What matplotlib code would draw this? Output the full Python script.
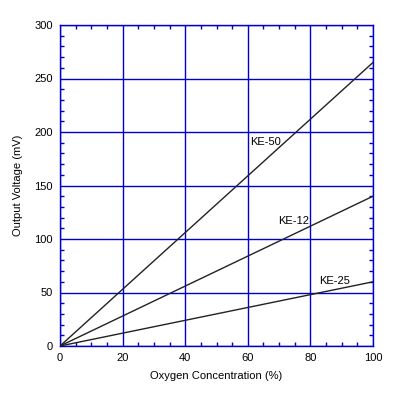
import matplotlib
matplotlib.use("Agg")
import matplotlib.pyplot as plt
from matplotlib.ticker import MultipleLocator

plt.rcParams['font.family'] = ['Liberation Sans', 'DejaVu Sans']

oxygen = [0, 20, 40, 60, 80, 100]
ke50 = [0, 53, 106, 159, 212, 265]
ke12 = [0, 28, 56, 84, 112, 140]
ke25 = [0, 12, 24, 36, 48, 60]

labels = [("KE-50", 60.7, 191), ("KE-12", 69.6, 117), ("KE-25", 82.7, 61)]

blue = "#0000CC"
fig = plt.figure(figsize=(4.03, 3.97), dpi=100)
ax = fig.add_axes([60/403, 51/397, 313/403, 321/397])

for ys in (ke50, ke12, ke25):
    ax.plot(oxygen, ys, color="#222222", lw=1.0, zorder=3)

for name, x, y in labels:
    ax.text(x, y, name, fontsize=8, va="center", ha="left", zorder=4)

ax.set_xlim(0, 100)
ax.set_ylim(0, 300)
ax.xaxis.set_major_locator(MultipleLocator(20))
ax.xaxis.set_minor_locator(MultipleLocator(5))
ax.yaxis.set_major_locator(MultipleLocator(50))
ax.yaxis.set_minor_locator(MultipleLocator(10))
ax.grid(True, which="major", color=blue, lw=1.0)
for s in ax.spines.values():
    s.set_color(blue)
    s.set_linewidth(1.0)
ax.tick_params(which="both", direction="in", top=True, right=True, color=blue,
               labelsize=8, width=1.0)
ax.tick_params(which="major", length=0, pad=5)
ax.tick_params(which="minor", length=2.6)
ax.set_xlabel("Oxygen Concentration (%)", fontsize=8, labelpad=6)
ax.set_ylabel("Output Voltage (mV)", fontsize=8, labelpad=8)

fig.savefig("out.png", dpi=100)
